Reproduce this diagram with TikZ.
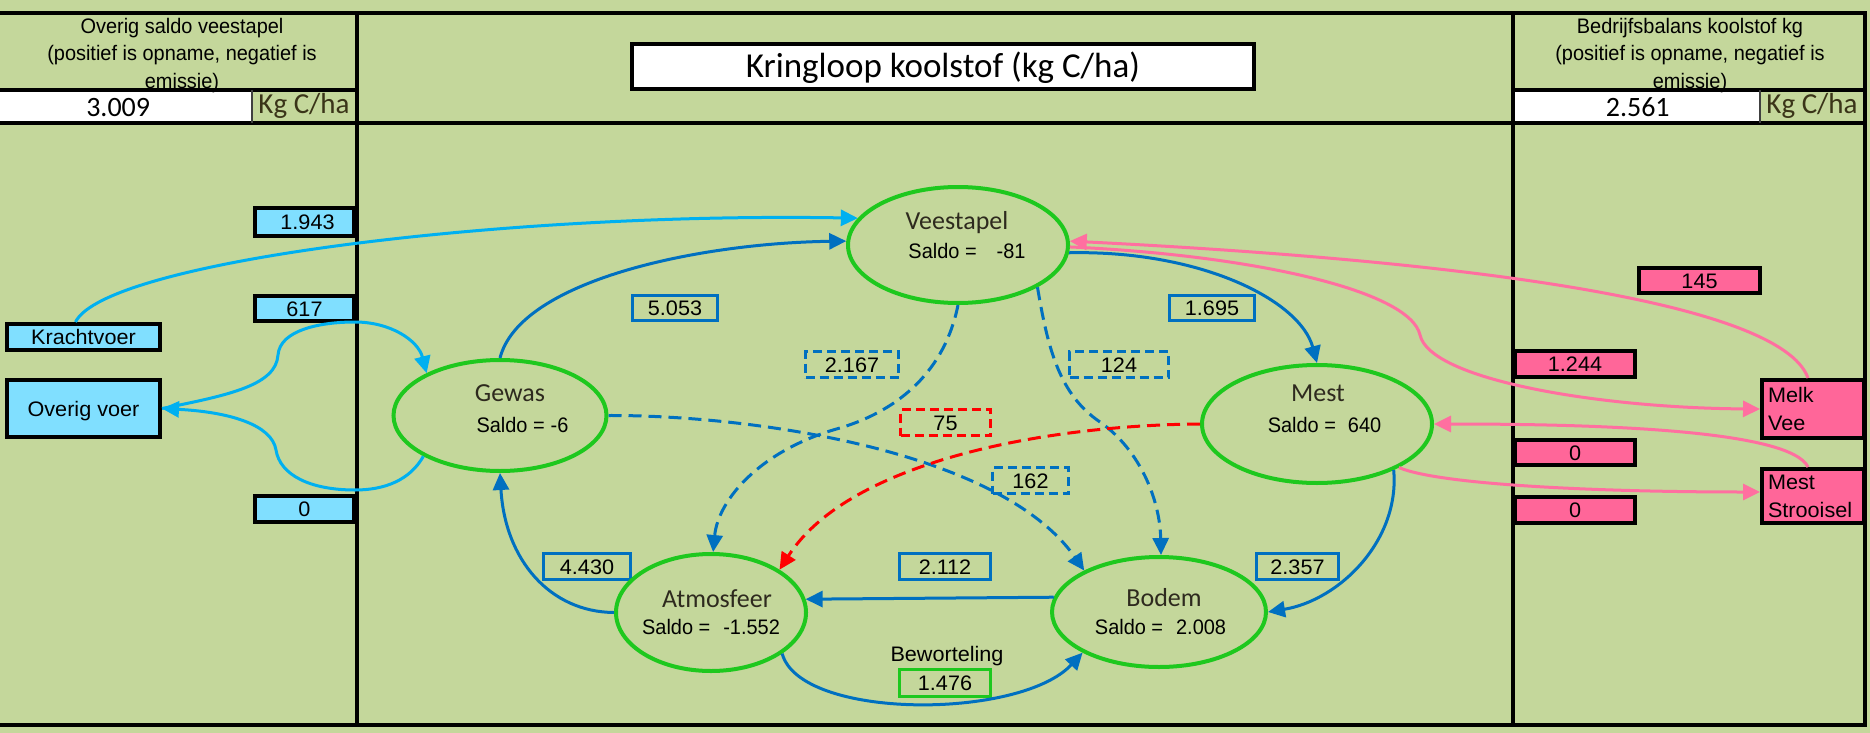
\documentclass[tikz,border=0pt]{standalone}
\usepackage{fontspec}
\newfontfamily\calfont{Carlito}
\newfontfamily\msfont[FakeStretch=0.95]{Liberation Sans}
\newfontfamily\boxfont[FakeStretch=1.03]{Liberation Sans}
\usetikzlibrary{arrows.meta,calc,shapes.geometric}
\definecolor{bgc}{HTML}{C4D79B}
\definecolor{lbfill}{HTML}{80DFFF}
\definecolor{lbline}{HTML}{00B0F0}
\definecolor{dblue}{HTML}{0070C0}
\definecolor{pkfill}{HTML}{FF6699}
\definecolor{pkline}{HTML}{FF6FA0}
\definecolor{egreen}{HTML}{1EC81E}
\definecolor{ttl}{HTML}{2E2A1E}
\definecolor{kgc}{HTML}{3A3418}
\begin{document}
\begin{tikzpicture}[x=1pt,y=-1pt,
  ms/.style={font=\msfont\fontsize{21}{27.5}\selectfont, text height=15pt, text depth=0pt, inner sep=0pt},
  bx/.style={font=\boxfont\fontsize{21}{27.5}\selectfont, text height=15pt, text depth=0pt, inner sep=0pt},
  hdr/.style={font=\msfont\fontsize{21}{27.5}\selectfont, inner sep=0pt, align=center, anchor=north},
  caltxt/.style={font=\calfont\fontsize{26}{30}\selectfont, text height=16.7pt, text depth=0pt, inner sep=0pt, text=ttl},
  frameline/.style={line width=4pt, black},
  ell/.style={ellipse, draw=egreen, line width=4pt, inner sep=0pt},
  lbbox/.style={bx, draw=black, line width=4pt, fill=lbfill},
  pkbox/.style={bx, draw=black, line width=4pt, fill=pkfill},
  pktwo/.style={draw=black, line width=4pt, fill=pkfill, font=\boxfont\fontsize{21}{28}\selectfont, inner sep=0pt, align=left, text width=90pt},
  labbox/.style={bx, draw=dblue, line width=3pt},
  dlabbox/.style={labbox, dash pattern=on 9pt off 5pt},
  harrow/.style={-{Triangle[length=17pt,width=16pt]}},
  lbc/.style={lbline, line width=3pt},
  dbc/.style={dblue, line width=3pt},
  pkc/.style={pkline, line width=3pt},
  dsh/.style={dash pattern=on 13pt off 7pt},
]
\useasboundingbox (0,0) rectangle (1870,733);
\fill[bgc] (0,0) rectangle (1870,733);

% header value cells
\node[fill=white, minimum width=252pt, minimum height=32pt, inner sep=0pt, anchor=north west,
      font=\calfont\fontsize{28}{32}\selectfont, text height=17.8pt, text depth=0pt] (valL) at (0,91) {3.009\hspace*{16pt}};
\node[fill=white, minimum width=245pt, minimum height=32pt, inner sep=0pt, anchor=north west,
      font=\calfont\fontsize{28}{32}\selectfont, text height=17.8pt, text depth=0pt] (valR) at (1515,91) {2.561};
\node[font=\calfont\fontsize{29}{32}\selectfont, text height=18.7pt, text depth=0pt, inner sep=0pt, text=kgc] (kgL) at (304,104) {Kg C/ha};
\node[font=\calfont\fontsize{29}{32}\selectfont, text height=18.7pt, text depth=0pt, inner sep=0pt, text=kgc] (kgR) at (1812,104) {Kg C/ha};

% header texts
\node[hdr] (hdrL) at (182,18) {Overig saldo veestapel\\(positief is opname, negatief is\\emissie)};
\node[hdr] (hdrR) at (1690,18) {Bedrijfsbalans koolstof kg\\(positief is opname, negatief is\\emissie)};

% frame lines
\draw[frameline] (0,13) -- (1867,13);
\draw[frameline] (0,123) -- (1867,123);
\draw[frameline] (0,725) -- (1867,725);
\draw[frameline] (1865,13) -- (1865,725);
\draw[frameline] (357,13) -- (357,725);
\draw[frameline] (1513,13) -- (1513,725);
\draw[frameline] (0,90) -- (357,90);
\draw[frameline] (1513,90) -- (1865,90);
\draw[line width=2pt, black!75] (252,90) -- (252,123);
\draw[line width=2pt, black!75] (1760,90) -- (1760,123);

% title
\node[draw=black, line width=4pt, fill=white, minimum width=622pt, minimum height=45pt, inner sep=0pt,
      font=\calfont\fontsize{35}{40}\selectfont, text height=22.5pt, text depth=0pt] (title) at (943,66.5) {Kringloop koolstof (kg C/ha)};

% left boxes
\node[lbbox, minimum width=99pt, minimum height=28pt] (b1943) at (304.5,222) {\hspace*{6pt}1.943};
\node[lbbox, minimum width=99pt, minimum height=25pt] (b617) at (304.5,308.5) {617};
\node[lbbox, minimum width=99pt, minimum height=26pt] (b0l) at (304.5,509) {0};
\node[lbbox, minimum width=153pt, minimum height=26pt] (kracht) at (83.5,337) {Krachtvoer};
\node[lbbox, minimum width=153pt, minimum height=57pt] (overig) at (83.5,408.5) {Overig voer};

% right boxes
\node[pkbox, minimum width=121pt, minimum height=25pt] (b145) at (1699.5,280.5) {145};
\node[pkbox, minimum width=120pt, minimum height=26pt] (b1244) at (1575,364) {1.244};
\node[pkbox, minimum width=120pt, minimum height=25pt] (b0a) at (1575,452.5) {0};
\node[pkbox, minimum width=120pt, minimum height=26pt] (b0b) at (1575,510) {0};
\node[pktwo, minimum width=102pt, minimum height=58pt] (melk) at (1813,409) {Melk\\Vee};
\node[pktwo, minimum width=102pt, minimum height=54pt] (strooi) at (1813,496) {Mest\\Strooisel};

% label boxes
\node[labbox, minimum width=85pt, minimum height=25pt] (l5053) at (675,308) {5.053};
\node[labbox, minimum width=85pt, minimum height=25pt] (l1695) at (1212,308) {1.695};
\node[dlabbox, minimum width=93pt, minimum height=26pt] (l2167) at (852,364.5) {2.167};
\node[dlabbox, minimum width=99pt, minimum height=26pt] (l124) at (1119,364.5) {124};
\node[dlabbox, draw=red, minimum width=90pt, minimum height=26pt] (l75) at (945.5,422.5) {75};
\node[dlabbox, minimum width=76pt, minimum height=26pt] (l162) at (1030.5,480.5) {162};
\node[labbox, minimum width=87pt, minimum height=26pt] (l4430) at (587,566.5) {4.430};
\node[labbox, minimum width=91pt, minimum height=26pt] (l2112) at (945,566.5) {2.112};
\node[labbox, minimum width=82pt, minimum height=26pt] (l2357) at (1297.5,566.5) {2.357};
\node[labbox, draw=egreen, minimum width=91pt, minimum height=27pt] (l1476) at (945,683) {1.476};
\node[bx] (bew) at (947,654) {Beworteling};

% ellipses
\node[ell, minimum width=220pt, minimum height=116pt] (vee) at (958,245) {};
\node[ell, minimum width=213pt, minimum height=111pt] (gew) at (500,415.5) {};
\node[ell, minimum width=230pt, minimum height=118pt] (mest) at (1317,424) {};
\node[ell, minimum width=190pt, minimum height=117pt] (atm) at (711,612.5) {};
\node[ell, minimum width=214pt, minimum height=110pt] (bod) at (1159,612) {};

\node[caltxt] (veeT) at (957,221) {Veestapel};
\node[ms] (veeS) at (967,251) {Saldo =\hspace{20pt}-81};
\node[caltxt] (gewT) at (510,393) {Gewas};
\node[ms] (gewS) at (522.5,425) {Saldo =\hspace{6pt}-6};
\node[caltxt] (mestT) at (1318,393) {Mest};
\node[ms] (mestS) at (1324.5,425) {Saldo =\hspace{12pt}640};
\node[caltxt] (atmT) at (717,599) {Atmosfeer};
\node[ms] (atmS) at (711,627) {Saldo =\hspace{13pt}-1.552};
\node[caltxt] (bodT) at (1164,598) {Bodem};
\node[ms] (bodS) at (1160.5,627) {Saldo =\hspace{13pt}2.008};

% connectors
\draw[lbc,harrow] ($(kracht.north)+(-8,0)$) .. controls (105,262) and (500,212) .. (vee.165);
\draw[dbc,harrow] (gew.90) .. controls (520,280) and (700,243) .. (vee.178);
\draw[lbc,harrow] (overig.east) .. controls (230,395) and (276,385) .. (278,355)
   .. controls (280,330) and (320,322) .. (355,322) .. controls (390,322) and (418,340) .. (gew.150);
\draw[lbc,harrow] (gew.208) .. controls (410,480) and (385,490) .. (355,490)
   .. controls (310,490) and (280,475) .. (276,450) .. controls (272,425) and (230,412) .. (overig.east);
\draw[dbc,harrow] (vee.-4) .. controls (1200,250) and (1300,300) .. (mest.90);
\draw[dbc,dsh,harrow] (vee.270) .. controls (945,370) and (900,410) .. (840,428)
   .. controls (760,450) and (718,500) .. (atm.88);
\draw[dbc,dsh,harrow] (vee.-28) .. controls (1048,350) and (1060,395) .. (1100,422)
   .. controls (1140,450) and (1160,500) .. (bod.88);
\draw[dbc,dsh,harrow] (gew.0) .. controls (750,415) and (1000,450) .. (bod.151);
\draw[red,line width=3pt,dsh,harrow] (mest.180) .. controls (1050,425) and (850,460) .. (atm.32);
\draw[dbc,harrow] (atm.180) .. controls (550,612) and (505,560) .. (gew.270);
\draw[dbc,harrow] (bod.172) -- (atm.8);
\draw[dbc,harrow] (atm.-30) .. controls (800,720) and (1020,720) .. (bod.208);
\draw[dbc,harrow] (mest.-31) .. controls (1400,540) and (1340,600) .. (bod.0);
\draw[pkc,harrow] ($(melk.north)+(-5,0)$) .. controls (1780,300) and (1450,260) .. (vee.2);
\draw[pkc,harrow] (vee.-1) .. controls (1250,255) and (1410,290) .. (1420,335)
   .. controls (1430,380) and (1600,408) .. (melk.west);
\draw[pkc,harrow] ($(strooi.north)+(-5,0)$) .. controls (1790,430) and (1600,424) .. (mest.0);
\draw[pkc,harrow] (mest.-28) .. controls (1440,485) and (1600,492) .. ($(strooi.west)+(0,-4)$);
\end{tikzpicture}
\end{document}
